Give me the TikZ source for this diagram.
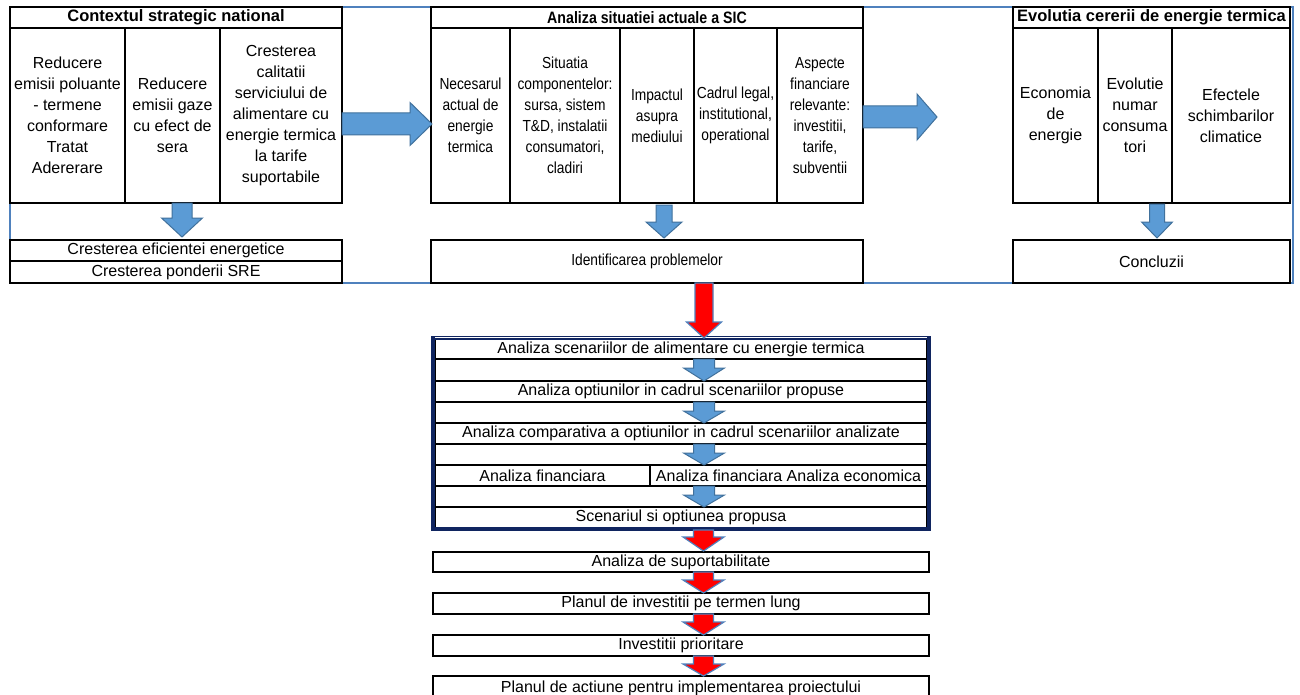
\documentclass[tikz,border=0pt]{standalone}
\usepackage{fontspec}
\setmainfont{Liberation Sans}
\newfontfamily\narrowfont[FakeStretch=0.86]{Liberation Sans}
\definecolor{framebl}{RGB}{79,129,189}
\definecolor{arrfill}{RGB}{91,155,213}
\definecolor{arrline}{RGB}{65,113,156}
\definecolor{navyfr}{RGB}{16,37,96}
\newcommand{\blkdown}[7]{% cx, top, headstart, tip, shaft half, head half, style
  \draw[#7] ({#1-#5},#2) -- ({#1+#5},#2) -- ({#1+#5},#3) -- ({#1+#6},#3) -- (#1,#4)
    -- ({#1-#6},#3) -- ({#1-#5},#3) -- cycle;}
\newcommand{\blkright}[7]{% cy, left, headstart, tip, shaft half, head half, style
  \draw[#7] (#2,{#1-#5}) -- (#3,{#1-#5}) -- (#3,{#1-#6}) -- (#4,#1) -- (#3,{#1+#6})
    -- (#3,{#1+#5}) -- (#2,{#1+#5}) -- cycle;}
\tikzset{
  cell/.style={draw=black, line width=1.6pt, inner sep=1pt, align=center,
    font=\fontsize{16}{21}\selectfont},
  ncell/.style={cell, font=\narrowfont\fontsize{16}{21}\selectfont},
  hdr/.style={cell, font=\bfseries\fontsize{16.5}{20}\selectfont},
  nhdr/.style={cell, font=\narrowfont\bfseries\fontsize{16.5}{20}\selectfont},
  row/.style={draw=black, line width=1.1pt, inner sep=0pt, align=center,
    minimum width=492pt, font=\fontsize{16}{20}\selectfont},
  lbox/.style={draw=black, line width=1.6pt, inner sep=0pt, align=center,
    minimum width=496pt, font=\fontsize{16}{20}\selectfont},
  bluearr/.style={fill=arrfill, draw=arrline, line width=1pt, line join=miter},
  redarr/.style={fill=red, draw=framebl, line width=1.2pt, line join=miter}
}
\begin{document}
\begin{tikzpicture}[x=1pt,y=-1pt]
\useasboundingbox (0,0) rectangle (1300,695);
\fill[white] (0,0) rectangle (1300,695);
% outer blue frame
\draw[framebl, line width=1.8pt] (10,7) rectangle (1293,283);
% ---------- left block
\node[hdr, minimum width=332pt, minimum height=21pt] (hdrL) at (176,17.5) {Contextul strategic national};
\node[cell, minimum width=115pt, minimum height=175pt] (L1) at (67.5,115.5) {Reducere\\emisii poluante\\- termene\\conformare\\Tratat\\Adererare};
\node[cell, minimum width=95pt, minimum height=175pt] (L2) at (172.5,115.5) {Reducere\\emisii gaze\\cu efect de\\sera};
\node[cell, minimum width=122pt, minimum height=175pt] (L3) at (281,115.5) {Cresterea\\calitatii\\serviciului de\\alimentare cu\\energie termica\\la tarife\\suportabile};
\node[cell, minimum width=332pt, minimum height=21pt] (LB1) at (176,250.5) {Cresterea eficientei energetice};
\node[cell, minimum width=332pt, minimum height=22pt] (LB2) at (176,272) {Cresterea ponderii SRE};
% ---------- middle block
\node[nhdr, minimum width=432pt, minimum height=21pt] (hdrM) at (647,17.5) {Analiza situatiei actuale a SIC};
\node[ncell, minimum width=79pt, minimum height=175pt] (M1) at (470.5,115.5) {Necesarul\\actual de\\energie\\termica};
\node[ncell, minimum width=110pt, minimum height=175pt] (M2) at (565,115.5) {Situatia\\componentelor:\\sursa, sistem\\T\&D, instalatii\\consumatori,\\cladiri};
\node[ncell, minimum width=74pt, minimum height=175pt] (M3) at (657,115.5) {Impactul\\asupra\\mediului};
\node[ncell, minimum width=83pt, minimum height=175pt] (M4) at (735.5,115.5) {Cadrul legal,\\institutional,\\operational};
\node[ncell, minimum width=86pt, minimum height=175pt] (M5) at (820,115.5) {Aspecte\\financiare\\relevante:\\investitii,\\tarife,\\subventii};
\node[ncell, minimum width=432pt, minimum height=43pt] (MB) at (647,261.5) {Identificarea problemelor};
% ---------- right block
\node[hdr, minimum width=277pt, minimum height=21pt] (hdrR) at (1151.5,17.5) {Evolutia cererii de energie termica};
\node[cell, minimum width=85pt, minimum height=175pt] (R1) at (1055.5,115.5) {Economia\\de\\energie};
\node[cell, minimum width=74pt, minimum height=175pt] (R2) at (1135,115.5) {Evolutie\\numar\\consuma\\tori};
\node[cell, minimum width=118pt, minimum height=175pt] (R3) at (1231,115.5) {Efectele\\schimbarilor\\climatice};
\node[cell, minimum width=277pt, minimum height=43pt] (RB) at (1151.5,261.5) {Concluzii};
% ---------- block arrows, top part
\blkdown{182}{203}{218}{237}{10}{20.5}{bluearr}
\blkdown{664}{205}{222}{238}{8}{18}{bluearr}
\blkdown{1157}{204}{222}{238}{7.5}{15.5}{bluearr}
\blkright{124}{342}{410}{432}{11}{21.5}{bluearr}
\blkright{117}{863}{917}{937}{11}{23}{bluearr}
% ---------- lower framed table
\node[row, minimum height=20pt] (T1) at (681,349) {Analiza scenariilor de alimentare cu energie termica};
\node[row, minimum height=22pt] (G1) at (681,370) {};
\node[row, minimum height=21pt] (T2) at (681,391.5) {Analiza optiunilor in cadrul scenariilor propuse};
\node[row, minimum height=21pt] (G2) at (681,412.5) {};
\node[row, minimum height=21pt] (T3) at (681,433.5) {Analiza comparativa a optiunilor in cadrul scenariilor analizate};
\node[row, minimum height=21pt] (G3) at (681,454.5) {};
\node[row, minimum width=215pt, minimum height=21pt] (F1) at (542.5,475.5) {Analiza financiara};
\node[row, minimum width=277pt, minimum height=21pt] (F2) at (788.5,475.5) {Analiza financiara Analiza economica};
\node[row, minimum height=21pt] (G4) at (681,496.5) {};
\node[row, minimum height=21pt] (T5) at (681,517.5) {Scenariul si optiunea propusa};
\draw[navyfr, line width=4pt] (433,337.5) rectangle (929,529);
\draw[white, line width=0.8pt] (435,337.5) -- (927,337.5);
% big red arrow
\blkdown{704}{283}{322}{338}{9}{17.5}{redarr}
\blkdown{704}{359}{368}{381}{10.5}{20.5}{bluearr}
\blkdown{704}{402}{411}{423}{10.5}{20.5}{bluearr}
\blkdown{704}{444}{453}{465}{10.5}{20.5}{bluearr}
\blkdown{704}{486}{495}{507}{10.5}{20.5}{bluearr}
% ---------- lower boxes
\node[lbox, minimum height=20pt] (S1) at (681,562) {Analiza de suportabilitate};
\node[lbox, minimum height=21pt] (S2) at (681,603.5) {Planul de investitii pe termen lung};
\node[lbox, minimum height=21pt] (S3) at (681,645.5) {Investitii prioritare};
\node[lbox, minimum height=24pt] (S4) at (681,688) {Planul de actiune pentru implementarea proiectului};
\blkdown{703.5}{530}{537}{551}{10}{20.5}{redarr}
\blkdown{703.5}{572}{580}{593}{10}{20.5}{redarr}
\blkdown{703.5}{614}{622}{635}{10}{20.5}{redarr}
\blkdown{703.5}{656}{664}{676}{10}{20.5}{redarr}
\end{tikzpicture}
\end{document}
